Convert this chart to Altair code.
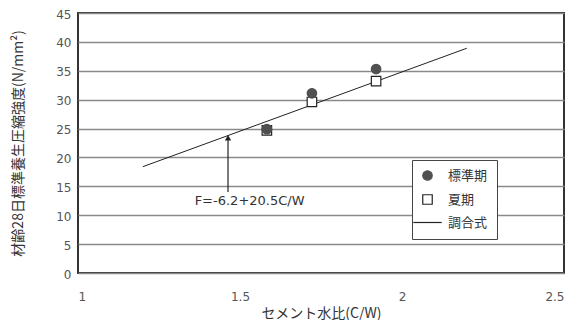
import altair as alt
import pandas as pd

# ---- data ----
cw = [1.583, 1.722, 1.92]                 # セメント水比 C/W
std_strength = [24.9, 31.1, 35.3]         # 標準期
summer_strength = [24.7, 29.6, 33.2]      # 夏期
fit_x = [1.2, 2.2]                        # 調合式 line ends
fit_y = [18.4, 38.9]
series_names = ["標準期", "夏期", "調合式"]
x_ticks = [1, 1.5, 2, 2.5]
y_ticks = [0, 5, 10, 15, 20, 25, 30, 35, 40, 45]
annot_text = ["F=-6.2+20.5C/W"]
annot_x = [1.36]
annot_y = [12.4]
arrow_x = [1.463]
arrow_y0 = [14.0]
arrow_y1 = [23.4]

pts = pd.DataFrame({
    "cw": cw + cw,
    "F": summer_strength + std_strength,
    "series": [series_names[1]] * len(cw) + [series_names[0]] * len(cw),
})
fit = pd.DataFrame({"cw": fit_x, "F": fit_y})
ann = pd.DataFrame({"x": annot_x, "y": annot_y, "t": annot_text})
arr = pd.DataFrame({"x": arrow_x, "y0": arrow_y0, "y1": arrow_y1})

xs = alt.Scale(domain=[1, 2.5], nice=False, zero=False)
ys = alt.Scale(domain=[0, 45], nice=False)

x_axis = alt.Axis(values=x_ticks, format="~g", grid=False, ticks=False,
                  labelPadding=18, labelOverlap=False)
y_axis = alt.Axis(values=y_ticks, grid=True, ticks=False, labelPadding=7,
                  labelOverlap=False, labelOffset=1)
x_title = "セメント水比(C/W)"
y_title = "材齢28日標準養生圧縮強度(N/mm²)"

line = alt.Chart(fit).mark_line(color="#222", strokeWidth=1).encode(
    x=alt.X("cw:Q", scale=xs, title=x_title, axis=x_axis),
    y=alt.Y("F:Q", scale=ys, title=y_title, axis=y_axis))

points = alt.Chart(pts).mark_point(filled=True, size=90, strokeWidth=1.2, opacity=1).encode(
    x=alt.X("cw:Q", scale=xs, title=x_title, axis=x_axis),
    y=alt.Y("F:Q", scale=ys, title=y_title, axis=y_axis),
    shape=alt.Shape("series:N", title=None,
                    scale=alt.Scale(domain=series_names, range=["circle", "square", "M-3,0L3,0"])),
    fill=alt.Fill("series:N", title=None,
                  scale=alt.Scale(domain=series_names, range=["#505050", "white", "transparent"])),
    stroke=alt.Stroke("series:N", title=None,
                      scale=alt.Scale(domain=series_names, range=["#505050", "#222", "#222"])),
)

arrow_shaft = alt.Chart(arr).mark_rule(color="#222", strokeWidth=1.2).encode(
    x=alt.X("x:Q", scale=xs, title=x_title, axis=x_axis),
    y=alt.Y("y0:Q", scale=ys, title=y_title, axis=y_axis), y2="y1:Q")
arrow_head = alt.Chart(arr).mark_point(shape="triangle-up", filled=True, size=40,
                                       color="#222", opacity=1).encode(
    x=alt.X("x:Q", scale=xs, title=x_title, axis=x_axis),
    y=alt.Y("y1:Q", scale=ys, title=y_title, axis=y_axis))
text = alt.Chart(ann).mark_text(align="left", baseline="middle", fontSize=13,
                                font="DejaVu Sans", color="#333").encode(
    x=alt.X("x:Q", scale=xs, title=x_title, axis=x_axis),
    y=alt.Y("y:Q", scale=ys, title=y_title, axis=y_axis), text="t:N")

chart = alt.layer(line, points, arrow_shaft, arrow_head, text).properties(
    width=486, height=260,
    autosize=alt.AutoSizeParams(type="none"),
    padding={"left": 70, "top": 5, "right": 8, "bottom": 47},
).configure_view(
    stroke="#333", strokeWidth=2
).configure_axis(
    domain=False,
    gridColor="#8a8a8a", gridWidth=1.5,
    labelFont="DejaVu Sans", labelFontSize=12, labelColor="#555",
    titleFont="Noto Sans CJK JP", titleFontSize=14, titleColor="#333", titleFontWeight="normal",
).configure_axisY(titlePadding=30).configure_axisX(titlePadding=4).configure_legend(
    orient="none", legendX=334, legendY=147,
    strokeColor="#444", strokeWidth=1, fillColor="white", padding=9,
    labelFont="Noto Sans CJK JP", labelFontSize=13, labelColor="#333",
    symbolSize=90, symbolStrokeWidth=1.2, rowPadding=9, labelOffset=14,
)

chart.save("out.html", embed_options={"renderer": "svg", "actions": False})
